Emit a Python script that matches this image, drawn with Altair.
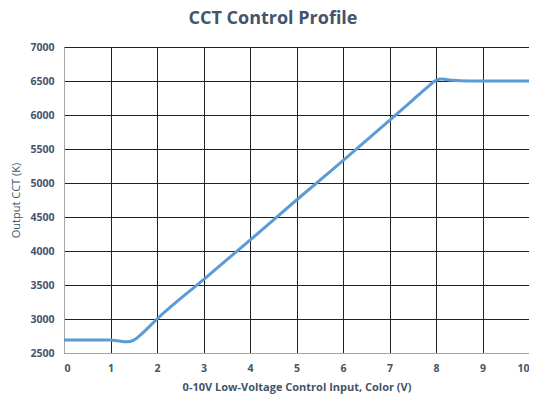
import altair as alt
import pandas as pd

volts = [0, 0.5, 1.0, 1.15, 1.35, 1.5, 1.7, 2.0, 3.0, 4.0, 5.0, 6.0, 7.0, 7.5, 7.8, 8.0, 8.12, 8.35, 8.7, 9.5, 10.0]
cct = [2690, 2690, 2690, 2680, 2665, 2690, 2800, 3000, 3580, 4160, 4750, 5330, 5920, 6220, 6400, 6510, 6530, 6510, 6500, 6500, 6500]
x_ticks = [0, 1, 2, 3, 4, 5, 6, 7, 8, 9, 10]
y_ticks = [2500, 3000, 3500, 4000, 4500, 5000, 5500, 6000, 6500, 7000]

df = pd.DataFrame({"v": volts, "cct": cct})

font = "Open Sans"
tc = "#44546A"

chart = alt.Chart(df).mark_line(
    color="#5B9BD5", strokeWidth=3, interpolate="monotone"
).encode(
    x=alt.X("v:Q", scale=alt.Scale(domain=[0, 10], nice=False),
            axis=alt.Axis(title="0-10V Low-Voltage Control Input, Color (V)",
                          values=x_ticks, format="d", labelOverlap=False)),
    y=alt.Y("cct:Q", scale=alt.Scale(domain=[2500, 7000], nice=False, zero=False),
            axis=alt.Axis(title="Output CCT (K)", values=y_ticks, format="d", labelOverlap=False)),
).properties(
    width=465, height=306,
    autosize=alt.AutoSizeParams(type="none"),
    padding={"left": 56, "top": 39, "right": 0, "bottom": 43},
    title=alt.TitleParams("CCT Control Profile", fontSize=18, font=font, fontWeight="bold",
                          color=tc, anchor="middle", frame="bounds", offset=14),
).configure_view(stroke=None).configure_axis(
    grid=True, gridColor="#222222", gridWidth=1, gridOpacity=1,
    domainColor="#a6a6a6", domainWidth=1, ticks=False,
    labelFont=font, labelFontSize=10.5, labelFontWeight="bold", labelColor=tc,
    titleFont=font, titleColor=tc,
).configure_axisX(
    labelPadding=10, titleFontSize=11, titleFontWeight="bold", titlePadding=8,
).configure_axisY(
    labelPadding=10, titleFontSize=11, titleFontWeight="normal", titlePadding=8,
)

chart.save("out.html", embed_options={"renderer": "svg", "actions": False})
